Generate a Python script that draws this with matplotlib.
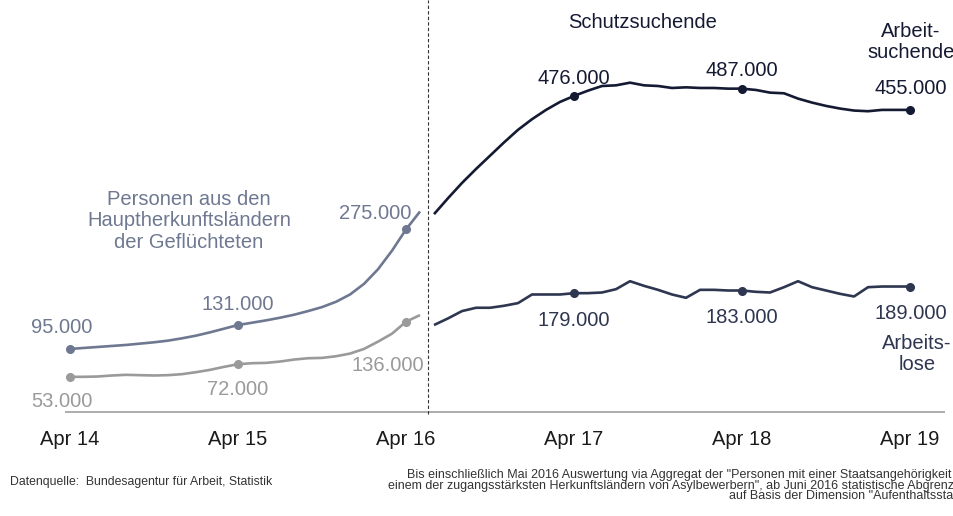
import matplotlib
matplotlib.use("Agg")
import matplotlib.pyplot as plt

plt.rcParams['font.family'] = ['Liberation Sans', 'DejaVu Sans']

# Monate ab Apr 14 (0) bis Apr 19 (60)
tick_pos = [0, 12, 24, 36, 48, 60]
tick_labels = ['Apr 14', 'Apr 15', 'Apr 16', 'Apr 17', 'Apr 18', 'Apr 19']

# Apr 14 - Mai 16: Personen aus den Hauptherkunftsländern
left_months = list(range(0, 26))
haupt_arbeitsuchend = [95000, 96500, 98000, 99500, 101000, 103000, 105000, 107500,
                       111000, 115000, 120000, 125500, 131000, 134500, 138000, 142000,
                       146500, 152000, 158000, 166000, 177000, 193000, 215000, 243000,
                       275000, 302000]
haupt_arbeitslos = [53000, 53000, 53500, 55000, 56000, 55500, 55000, 55500,
                    57000, 60000, 63500, 68000, 72000, 73500, 74000, 76000,
                    79000, 81000, 81500, 84000, 88000, 95000, 106000, 118000,
                    136000, 146000]

# Jun 16 - Apr 19: Schutzsuchende
right_months = list(range(26, 61))
schutz_arbeitsuchend = [298000, 322000, 345000, 366000, 386000, 406000, 425000, 441000,
                        455000, 467000, 476000, 484000, 491000, 492000, 496000, 492000,
                        491000, 488000, 489000, 488000, 488000, 487000, 487000, 485000,
                        481000, 480000, 472000, 466000, 461000, 457000, 454000, 453000,
                        455000, 455000, 455000]
schutz_arbeitslos = [131000, 141000, 152000, 157000, 157000, 160000, 164000, 177000,
                     177000, 177000, 179000, 179000, 180000, 185000, 197000, 190000,
                     184000, 177000, 172000, 184000, 184000, 183000, 183000, 181000,
                     180000, 188000, 197000, 188000, 183000, 178000, 174000, 188000,
                     189000, 189000, 189000]

left_marks = [0, 12, 24]
right_marks = [10, 22, 34]

c_haupt = '#6e7890'
c_haupt_lo = '#9a9a9a'
c_schutz = '#151a33'
c_schutz_lo = '#2e3650'


def fmt(v):
    return f"{v:,}".replace(",", ".")


fig = plt.figure(figsize=(9.54, 5.16), dpi=100)
ax = fig.add_axes([0, 0, 1, 1])
ax.set_xlim(-5, 63.14)
ax.set_ylim(-156600, 620500)
ax.axis('off')

fs = 14.5

series = [
    (left_months, haupt_arbeitsuchend, c_haupt, left_marks, [(-8, 21), (0, 21), (-31, 16)]),
    (left_months, haupt_arbeitslos, c_haupt_lo, left_marks, [(-8, -25), (0, -25), (-18, -44)]),
    (right_months, schutz_arbeitsuchend, c_schutz, right_marks, [(0, 17), (0, 18), (1, 21)]),
    (right_months, schutz_arbeitslos, c_schutz_lo, right_marks, [(0, -27), (0, -27), (1, -27)]),
]
for xs, ys, col, marks, offs in series:
    ax.plot(xs, ys, color=col, lw=1.9, solid_capstyle='butt')
    mx = [xs[i] for i in marks]
    my = [ys[i] for i in marks]
    ax.plot(mx, my, 'o', color=col, ms=5.5)
    for x, y, off in zip(mx, my, offs):
        ax.annotate(fmt(y), (x, y), xytext=off, textcoords='offset pixels',
                    ha='center', va='center', fontsize=fs, color=col)

# Grundlinie und Trennlinie
ax.hlines(0, -0.36, 62.5, color='#a0a0a0', lw=1.2)
ax.vlines(25.55, -3000, 620500, color='#333333', lw=0.8, linestyles=(0, (3, 2)))

for p, l in zip(tick_pos, tick_labels):
    ax.text(p, -42000, l, ha='center', va='center', fontsize=fs, color='#1a1a1a')

fig.text(189 / 954, 1 - 221 / 516, 'Personen aus den\nHauptherkunftsländern\nder Geflüchteten',
         ha='center', va='center', fontsize=fs, color=c_haupt, linespacing=1.15)
fig.text(643 / 954, 1 - 22 / 516, 'Schutzsuchende', ha='center', va='center',
         fontsize=fs, color=c_schutz)
fig.text(911 / 954, 1 - 42 / 516, 'Arbeit-\nsuchende', ha='center', va='center',
         fontsize=fs, color=c_schutz, linespacing=1.15)
fig.text(917 / 954, 1 - 354 / 516, 'Arbeits-\nlose', ha='center', va='center',
         fontsize=fs, color=c_schutz_lo, linespacing=1.15)

fig.text(10 / 954, 1 - 482 / 516, 'Datenquelle:  Bundesagentur für Arbeit, Statistik',
         ha='left', va='center', fontsize=8.8, color='#333333')
fig.text(975 / 954, 1 - 485.5 / 516,
         'Bis einschließlich Mai 2016 Auswertung via Aggregat der "Personen mit einer Staatsangehörigkeit aus\n'
         'einem der zugangsstärksten Herkunftsländern von Asylbewerbern", ab Juni 2016 statistische Abgrenzung\n'
         'auf Basis der Dimension "Aufenthaltsstatus"',
         ha='right', va='center', multialignment='right', fontsize=9.0,
         color='#333333', linespacing=0.85)

fig.savefig('out.png', dpi=100)
